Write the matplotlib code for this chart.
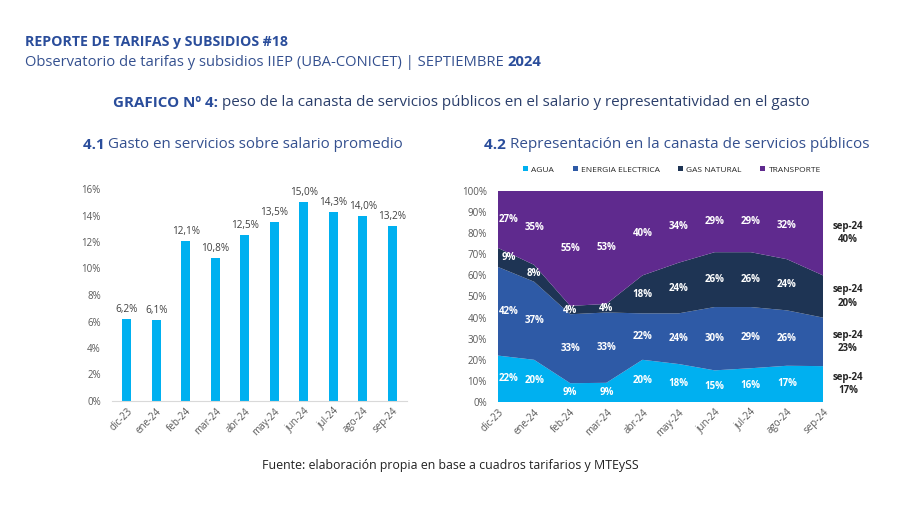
import numpy as np
import matplotlib
matplotlib.use('Agg')
import matplotlib.pyplot as plt

# Datos
meses = ['dic-23', 'ene-24', 'feb-24', 'mar-24', 'abr-24', 'may-24',
         'jun-24', 'jul-24', 'ago-24', 'sep-24']
gasto_salario = [6.2, 6.1, 12.1, 10.8, 12.5, 13.5, 15.0, 14.3, 14.0, 13.2]

agua = [22, 20, 9, 9, 20, 18, 15, 16, 17, 17]
energia = [42, 37, 33, 33, 22, 24, 30, 29, 26, 23]
gas = [9, 8, 4, 4, 18, 24, 26, 26, 24, 20]
transporte = [27, 35, 55, 53, 40, 34, 29, 29, 32, 40]
series_nombres = ['AGUA', 'ENERGIA ELECTRICA', 'GAS NATURAL', 'TRANSPORTE']

AZUL_TIT = '#2A4D9B'
COLORES = ['#00B0F0', '#2E5AA6', '#1E3454', '#5F2A8E']
FUENTE = 'Open Sans'

plt.rcParams['font.family'] = [FUENTE, 'DejaVu Sans']

W, H = 900, 505
fig = plt.figure(figsize=(W / 100, H / 100), dpi=100)


def fx(px):
    return px / W


def fy(py):
    return 1 - py / H


def texto_mixto(x, y, partes, size):
    # dibuja varios trozos de texto seguidos en una misma linea
    r = fig.canvas.get_renderer()
    xpix = x
    for txt, peso, color in partes:
        t = fig.text(fx(xpix), fy(y), txt, fontsize=size, fontweight=peso,
                     color=color, va='center', ha='left')
        bb = t.get_window_extent(renderer=r)
        xpix += bb.width


# Encabezado
fig.text(fx(25), fy(42), 'REPORTE DE TARIFAS y SUBSIDIOS #18', fontsize=10.2,
         fontweight='bold', color=AZUL_TIT, va='center')
texto_mixto(25, 62, [('Observatorio de tarifas y subsidios IIEP (UBA-CONICET) | SEPTIEMBRE ', 'normal', '#34508F'),
                     ('2024', 'bold', AZUL_TIT)], 10.6)
texto_mixto(113, 103, [('GRAFICO Nº 4: ', 'bold', AZUL_TIT),
                       ('peso de la canasta de servicios públicos en el salario y representatividad en el gasto', 'normal', '#2B3F6B')], 10.9)
texto_mixto(83, 145, [('4.1 ', 'bold', AZUL_TIT),
                      ('Gasto en servicios sobre salario promedio', 'normal', '#34508F')], 10.9)
texto_mixto(484, 145, [('4.2 ', 'bold', AZUL_TIT),
                       ('Representación en la canasta de servicios públicos', 'normal', '#34508F')], 11.0)
fig.text(0.5, fy(465), 'Fuente: elaboración propia en base a cuadros tarifarios y MTEySS',
         fontsize=8.9, color='#222222', ha='center', va='center')

# 4.1 barras
ax1 = fig.add_axes([fx(112), fy(401), fx(407 - 112), fy(189) - fy(401)])
x = np.arange(len(meses))
ax1.bar(x, gasto_salario, width=0.29, color=COLORES[0])
for xi, v in zip(x, gasto_salario):
    ax1.text(xi, v + 0.3, f'{v:.1f}%'.replace('.', ','), ha='center', va='bottom',
             fontsize=7.2, color='#404040')
ax1.set_xlim(-0.5, len(meses) - 0.5)
ax1.set_ylim(0, 16)
ax1.set_yticks(range(0, 17, 2))
ax1.set_yticklabels([f'{v}%' for v in range(0, 17, 2)])
ax1.set_xticks(x)
ax1.set_xticklabels(meses, rotation=45, ha='right', rotation_mode='anchor')
for s in ['top', 'right', 'left']:
    ax1.spines[s].set_visible(False)
ax1.spines['bottom'].set_color('#D9D9D9')
ax1.tick_params(axis='both', length=0, labelsize=7.0, colors='#595959')
ax1.tick_params(axis='y', pad=8)

# 4.2 area apilada
ax2 = fig.add_axes([fx(498), fy(402), fx(823 - 498), fy(191) - fy(402)])
series = [agua, energia, gas, transporte]
arr = np.array(series, dtype=float)
arr = arr / arr.sum(axis=0) * 100
ax2.stackplot(x, arr, colors=COLORES, labels=series_nombres, linewidth=0)
base = np.zeros(len(meses))
for k, serie in enumerate(series):
    centro = base + arr[k] / 2
    for i in range(len(meses) - 1):
        dx = 0.3 if i == 0 else 0.0
        ax2.text(x[i] + dx, centro[i], f'{serie[i]}%', ha='center', va='center',
                 fontsize=7.0, fontweight='bold', color='white')
    ax2.annotate(f'sep-24\n{serie[-1]}%', xy=(1.0, centro[-1] / 100), xycoords='axes fraction',
                 xytext=(18, 0), textcoords='offset points', ha='center', va='center',
                 fontsize=7.0, fontweight='bold', color='#262626', linespacing=1.3)
    base = base + arr[k]
ax2.set_xlim(0, len(meses) - 1)
ax2.set_ylim(0, 100)
ax2.set_yticks(range(0, 101, 10))
ax2.set_yticklabels([f'{v}%' for v in range(0, 101, 10)])
ax2.set_xticks(x)
ax2.set_xticklabels(meses, rotation=45, ha='right', rotation_mode='anchor')
for s in ax2.spines.values():
    s.set_visible(False)
ax2.tick_params(axis='both', length=0, labelsize=7.0, colors='#595959')
ax2.tick_params(axis='y', pad=8)
ax2.legend(loc='center', bbox_to_anchor=(0.535, 1.1), ncol=4, frameon=False,
           fontsize=6.0, handlelength=0.6, handleheight=0.6, columnspacing=2.2,
           handletextpad=0.4, labelcolor='#262626')

fig.savefig('out.png', dpi=100)
